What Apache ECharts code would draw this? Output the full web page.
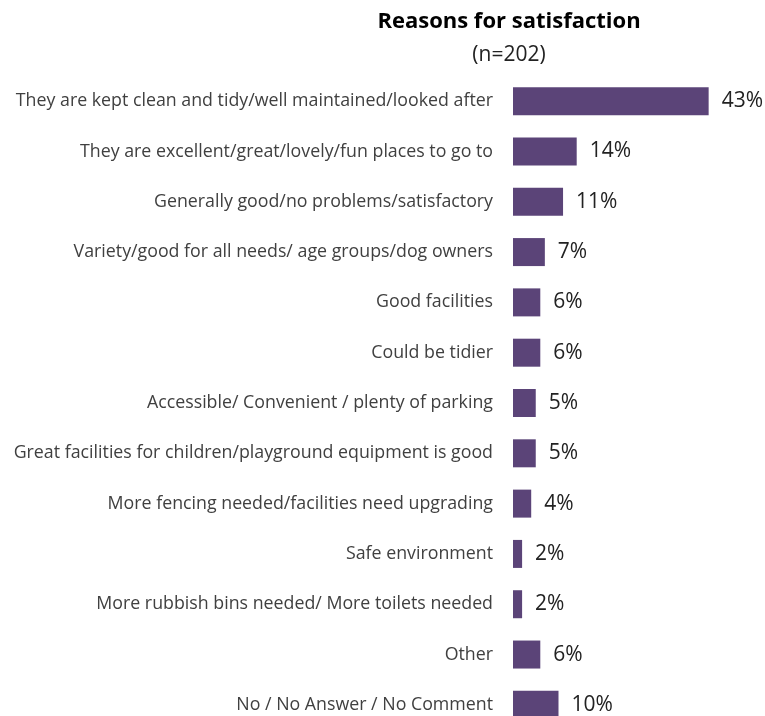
<!DOCTYPE html>
<html><head><meta charset="utf-8">
<script src="https://cdn.jsdelivr.net/npm/echarts@6/dist/echarts.min.js"></script>
<style>html,body{margin:0;padding:0;background:#fff;overflow:hidden}#c{width:765px;height:740px}</style>
</head><body><div id="c"></div>
<script>
const categories = [
  "They are kept clean and tidy/well maintained/looked after",
  "They are excellent/great/lovely/fun places to go to",
  "Generally good/no problems/satisfactory",
  "Variety/good for all needs/ age groups/dog owners",
  "Good facilities",
  "Could be tidier",
  "Accessible/ Convenient / plenty of parking",
  "Great facilities for children/playground equipment is good",
  "More fencing needed/facilities need upgrading",
  "Safe environment",
  "More rubbish bins needed/ More toilets needed",
  "Other",
  "No / No Answer / No Comment"
];
const values = [43, 14, 11, 7, 6, 6, 5, 5, 4, 2, 2, 6, 10];
const chart = echarts.init(document.getElementById('c'));
chart.setOption({
  animation: false,
  title: {
    text: 'Reasons for satisfaction',
    subtext: '(n=202)',
    left: 504, top: 6, textAlign: 'center',
    itemGap: 12,
    textStyle: {fontFamily: 'Open Sans', fontSize: 22, fontWeight: 'bold', color: '#000'},
    subtextStyle: {fontFamily: 'Open Sans', fontSize: 21, color: '#222'}
  },
  grid: {left: 513, top: 76, width: 227.5, height: 654, containLabel: false},
  xAxis: {type: 'value', min: 0, max: 50, show: false},
  yAxis: {
    type: 'category', data: categories, inverse: true,
    axisLine: {show: false}, axisTick: {show: false},
    axisLabel: {margin: 20, fontFamily: 'Open Sans', fontSize: 17.8, color: '#404040'}
  },
  series: [{
    type: 'bar', data: values, barWidth: 28,
    itemStyle: {color: '#5B4478'},
    label: {show: true, position: 'right', distance: 13, formatter: '{c}%',
      fontFamily: 'Open Sans', fontSize: 21, color: '#222'}
  }]
});
</script></body></html>
